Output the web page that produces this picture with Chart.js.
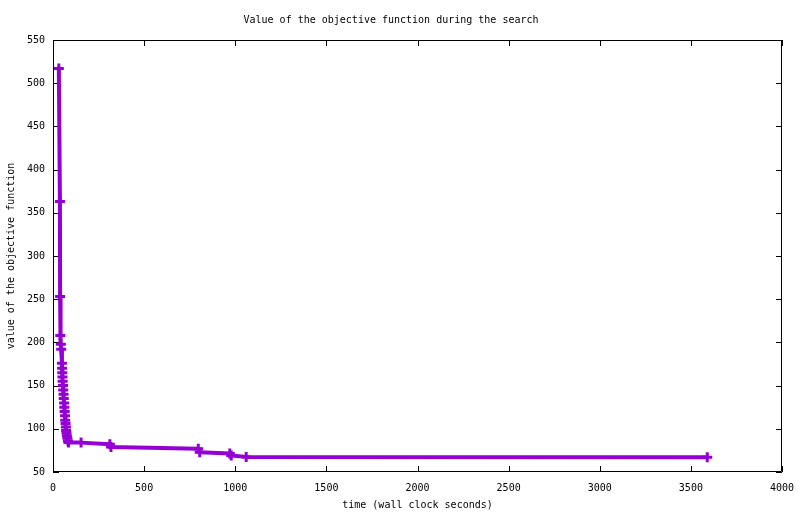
<!DOCTYPE html>
<html lang="en">
<head>
    <meta charset="UTF-8">
    <title>Value of the objective function during the search</title>
    <script src="https://cdn.jsdelivr.net/npm/chart.js"></script>
    <style>
        html, body { margin: 0; padding: 0; background: #ffffff; }
        .chart-box { width: 800px; height: 514px; position: relative; }
    </style>
</head>
<body>
    <div class="chart-box">
        <canvas id="objectiveChart"></canvas>
    </div>

    <script>
        // wall clock seconds of each recorded point
        const times = [32, 38, 39, 40, 43, 45, 49,
                       50, 51, 52, 53, 55, 56, 58, 59, 61, 62, 64, 66, 67, 69, 71, 72, 74, 76, 79, 82, 85,
                       154, 312, 318, 797, 805, 970, 978, 1060, 3590];
        // value of the objective function at each point
        const values = [517, 363, 253, 208, 198, 192, 176,
                        170, 165, 160, 155, 150, 145, 140, 135, 130, 125, 120, 115, 110, 106, 102, 98, 95, 92, 89, 86, 84,
                        84, 82, 79, 77, 73, 71.5, 69, 67.5, 67];
        const xTicks = [0, 500, 1000, 1500, 2000, 2500, 3000, 3500, 4000];
        const yTicks = [50, 100, 150, 200, 250, 300, 350, 400, 450, 500, 550];

        const monoFont = { family: "'DejaVu Sans Mono', 'Liberation Mono', monospace", size: 10 };

        // gnuplot style frame with inward ticks on all four sides
        const framePlugin = {
            id: 'frame',
            beforeDatasetsDraw(chart) {
                const { ctx, chartArea: a, scales } = chart;
                const len = 6;
                ctx.save();
                ctx.strokeStyle = '#000';
                ctx.lineWidth = 1;
                ctx.beginPath();
                ctx.rect(a.left + 0.5, a.top + 0.5, a.right - a.left - 1, a.bottom - a.top - 1);
                scales.x.ticks.forEach(t => {
                    const px = Math.round(scales.x.getPixelForValue(t.value)) + 0.5;
                    ctx.moveTo(px, a.bottom);
                    ctx.lineTo(px, a.bottom - len);
                    ctx.moveTo(px, a.top);
                    ctx.lineTo(px, a.top + len);
                });
                scales.y.ticks.forEach(t => {
                    const py = Math.round(scales.y.getPixelForValue(t.value)) + 0.5;
                    ctx.moveTo(a.left, py);
                    ctx.lineTo(a.left + len, py);
                    ctx.moveTo(a.right, py);
                    ctx.lineTo(a.right - len, py);
                });
                ctx.stroke();
                ctx.restore();
            }
        };

        const points = times.map((t, i) => ({ x: t, y: values[i] }));

        new Chart(document.getElementById('objectiveChart'), {
            type: 'line',
            data: {
                datasets: [{
                    data: points,
                    borderColor: '#9400d3',
                    backgroundColor: '#9400d3',
                    borderWidth: 4,
                    borderJoinStyle: 'round',
                    borderCapStyle: 'round',
                    tension: 0,
                    pointStyle: 'cross',
                    pointRadius: 5,
                    pointBorderWidth: 3,
                    pointBorderColor: '#9400d3',
                    fill: false
                }]
            },
            options: {
                responsive: true,
                maintainAspectRatio: false,
                animation: false,
                layout: { padding: { top: 0, right: 18, bottom: 0, left: 0 } },
                plugins: {
                    legend: { display: false },
                    tooltip: { enabled: false },
                    title: {
                        display: true,
                        text: 'Value of the objective function during the search',
                        color: '#000',
                        font: { ...monoFont, weight: 'normal' },
                        padding: { top: 14, bottom: 14 }
                    }
                },
                scales: {
                    x: {
                        type: 'linear',
                        min: 0,
                        max: 4000,
                        afterBuildTicks: s => { s.ticks = xTicks.map(v => ({ value: v })); },
                        afterFit: s => { s.height = 42; s.paddingLeft = 0; s.paddingRight = 0; },
                        grid: { display: false, drawTicks: false, tickLength: 0 },
                        border: { display: false },
                        ticks: { color: '#000', font: monoFont, padding: 10, maxRotation: 0, callback: v => String(v) },
                        title: {
                            display: true,
                            text: 'time (wall clock seconds)',
                            color: '#000',
                            font: monoFont,
                            padding: { top: 0, bottom: 3 }
                        }
                    },
                    y: {
                        type: 'linear',
                        min: 50,
                        max: 550,
                        afterBuildTicks: s => { s.ticks = yTicks.map(v => ({ value: v })); },
                        afterFit: s => { s.width = 53; },
                        grid: { display: false, drawTicks: false, tickLength: 0 },
                        border: { display: false },
                        ticks: { color: '#000', font: monoFont, padding: 8, callback: v => String(v) },
                        title: {
                            display: true,
                            text: 'value of the objective function',
                            color: '#000',
                            font: monoFont,
                            padding: { top: 5, bottom: 0 }
                        }
                    }
                }
            },
            plugins: [framePlugin]
        });
    </script>
</body>
</html>
